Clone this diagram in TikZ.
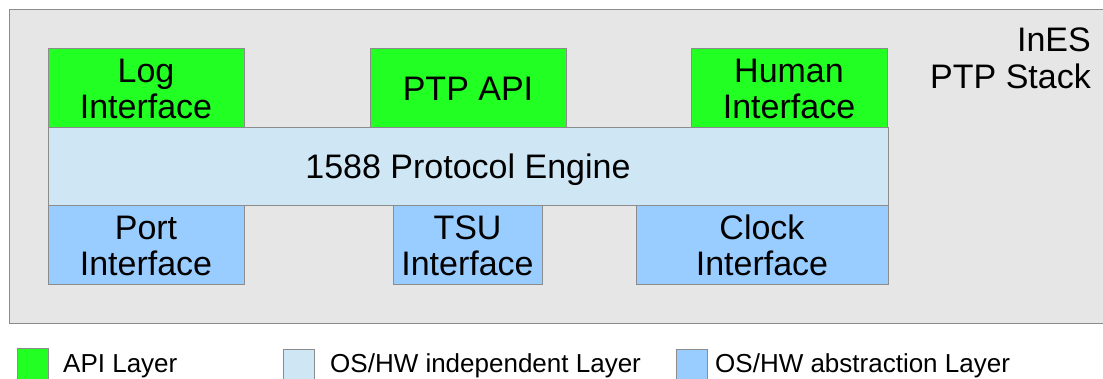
\documentclass[tikz,border=0pt]{standalone}
\usepackage{fontspec}
\setmainfont{Liberation Sans}
\definecolor{apigreen}{HTML}{22FF22}
\definecolor{indepblue}{HTML}{CFE7F5}
\definecolor{abstrblue}{HTML}{99CCFF}
\definecolor{stackgray}{HTML}{E6E6E6}
\definecolor{edgegray}{HTML}{8C8C8C}
\begin{document}
\begin{tikzpicture}[x=1pt, y=-1pt,
  layerbox/.style={draw=edgegray, line width=1pt, inner sep=0pt, align=center,
    minimum height=79pt, font=\fontsize{34}{36}\selectfont},
  apibox/.style={layerbox, fill=apigreen},
  absbox/.style={layerbox, fill=abstrblue},
  keybox/.style={draw=edgegray, line width=1pt, inner sep=0pt,
    minimum width=31pt, minimum height=31pt},
  keytext/.style={anchor=base west, inner sep=0pt, font=\fontsize{26}{30}\selectfont}]
\useasboundingbox (0,0) rectangle (1103,379);
\clip (0,0) rectangle (1103,379);

% stack frame
\draw[fill=stackgray, draw=edgegray, line width=1pt] (9,10) rectangle (1110,324);
\node[align=right, anchor=east, inner sep=0pt, font=\fontsize{34}{37}\selectfont]
  (title) at (1091,58.5) {InES\\PTP Stack};

% protocol engine
\node[layerbox, fill=indepblue, minimum width=840pt, minimum height=78pt, text depth=2pt]
  (engine) at (468,167) {1588 Protocol Engine};

% API layer
\node[apibox, minimum width=196pt] (logif)   at (146,88.5) {Log\\Interface};
\node[apibox, minimum width=196pt] (ptpapi)  at (468,88.5) {PTP API};
\node[apibox, minimum width=196pt] (humanif) at (789,88.5) {Human\\Interface};

% abstraction layer
\node[absbox, minimum width=196pt] (portif)  at (146,245.5)   {Port\\Interface};
\node[absbox, minimum width=149pt] (tsuif)   at (467.5,245.5) {TSU\\Interface};
\node[absbox, minimum width=252pt] (clockif) at (762,245.5)   {Clock\\Interface};

% legend
\node[keybox, fill=apigreen]  (keyapi)   at (32.5,364) {};
\node[keybox, fill=indepblue] (keyindep) at (299,364.5) {};
\node[keybox, fill=abstrblue] (keyabs)   at (691.5,364.5) {};
\node[keytext] (txtapi)   at (63,372)  {API Layer};
\node[keytext] (txtindep) at (330,372) {OS/HW independent Layer};
\node[keytext] (txtabs)   at (715,372) {OS/HW abstraction Layer};
\end{tikzpicture}
\end{document}
